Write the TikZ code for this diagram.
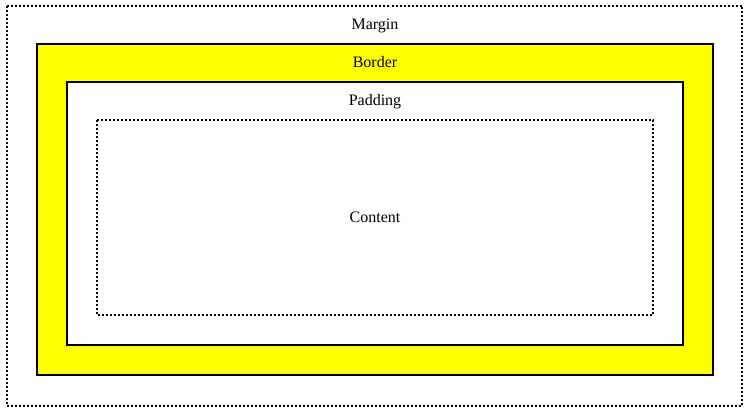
\documentclass[tikz,border=0pt]{standalone}
\usepackage{fontspec}
\setmainfont{Liberation Serif}
\definecolor{boxyellow}{RGB}{255,255,0}
\begin{document}
\begin{tikzpicture}[x=0.75pt,y=-0.75pt,
  dotbox/.style={draw=black,line width=1.5pt,dash pattern=on 1.5pt off 1.5pt},
  solidbox/.style={draw=black,line width=1.5pt},
  lbl/.style={font=\fontsize{12}{14}\selectfont,inner sep=0pt,anchor=base}]
\useasboundingbox (0,0) rectangle (749,413);
\fill[white] (0,0) rectangle (749,413);
\draw[dotbox] (6.5,6) rectangle (742,406);
\draw[solidbox,fill=boxyellow] (37,44) rectangle (713,375);
\draw[solidbox,fill=white] (67,82) rectangle (683,345);
\draw[dotbox] (97,120) rectangle (653,315);
\node[lbl] (margin) at (375,30) {Margin};
\node[lbl] (border) at (375,68) {Border};
\node[lbl] (padding) at (375,106) {Padding};
\node[lbl] (content) at (375,223) {Content};
\end{tikzpicture}
\end{document}
